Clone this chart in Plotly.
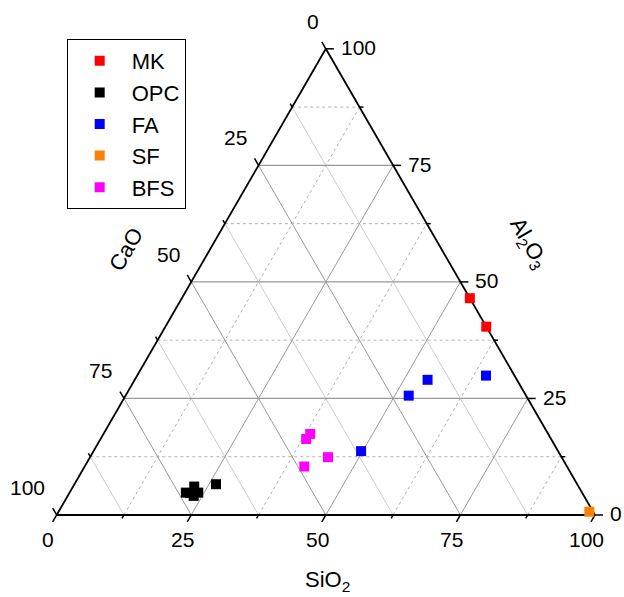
import numpy as np
import plotly.graph_objects as go

# ---------------- data (oxide composition, wt.%) ----------------
MK_SiO2 = [53.5, 59.6]
MK_Al2O3 = [46.5, 40.4]
MK_CaO = [0.0, 0.0]

OPC_SiO2 = [21.6, 22.5, 23.4, 23.9, 22.4, 26.3]
OPC_Al2O3 = [4.8, 6.1, 4.1, 4.8, 4.7, 6.6]
OPC_CaO = [73.6, 71.4, 72.5, 71.3, 72.9, 67.1]

FA_SiO2 = [54.4, 52.6, 64.8, 49.7]
FA_Al2O3 = [29.0, 25.6, 29.9, 13.7]
FA_CaO = [16.6, 21.8, 5.3, 36.6]

SF_SiO2 = [98.6]
SF_Al2O3 = [0.7]
SF_CaO = [0.7]

BFS_SiO2 = [38.4, 38.2, 44.2, 40.8]
BFS_Al2O3 = [17.4, 16.3, 12.4, 10.4]
BFS_CaO = [44.2, 45.5, 43.4, 48.8]

tick_values = [0, 25, 50, 75, 100]
minor_values = [12.5, 37.5, 62.5, 87.5]
tick_labels = ["0", "25", "50", "75", "100"]

FONT = "Liberation Sans, Arial, sans-serif"
SQ3 = np.sqrt(3) / 2


def proj(si, al, ca=None):
    """Ternary (SiO2 bottom-right, Al2O3 top, CaO bottom-left) -> plane."""
    si = np.asarray(si, float)
    al = np.asarray(al, float)
    if ca is not None:
        tot = (si + al + np.asarray(ca, float)) / 100.0
        si = si / tot
        al = al / tot
    return si + al / 2.0, al * SQ3


fig = go.Figure()


def add_lines(segments, color, width, dash="solid"):
    xs, ys = [], []
    for (x0, y0), (x1, y1) in segments:
        xs += [x0, x1, None]
        ys += [y0, y1, None]
    fig.add_trace(go.Scatter(x=xs, y=ys, mode="lines", hoverinfo="skip",
                             showlegend=False,
                             line=dict(color=color, width=width, dash=dash)))


def al_line(v):   # constant Al2O3
    return proj(0, v), proj(100 - v, v)


def si_line(v):   # constant SiO2
    return proj(v, 0), proj(v, 100 - v)


def ca_line(v):   # constant CaO
    return proj(0, 100 - v), proj(100 - v, 0)


majors = [25, 50, 75]
# minor grid
add_lines([al_line(v) for v in minor_values] + [si_line(v) for v in minor_values],
          "#b2b2b2", 1, "dot")
add_lines([ca_line(v) for v in minor_values], "#cccccc", 1)
# major grid
add_lines([si_line(v) for v in majors] + [ca_line(v) for v in majors], "#999999", 1)
add_lines([al_line(v) for v in majors], "#999999", 1.3)

# triangle frame
add_lines([(proj(0, 0), proj(100, 0)), (proj(100, 0), proj(0, 100)),
           (proj(0, 100), proj(0, 0))], "black", 1.8)

# ticks
PX = 5.383  # px per unit
maj_len = 8 / PX
min_len = 4 / PX
dirs = {
    "b": (-0.5, -SQ3),   # SiO2 ticks, bottom edge
    "r": (1.0, 0.0),     # Al2O3 ticks, right edge
    "l": (-0.5, SQ3),    # CaO ticks, left edge
}


def tick_pt(axis, v):
    if axis == "b":
        return proj(v, 0)
    if axis == "r":
        return proj(100 - v, v)
    return proj(0, 100 - v)


segs = []
for axis, d in dirs.items():
    for vals, ln in ((tick_values, maj_len), (minor_values, min_len)):
        for v in vals:
            x0, y0 = tick_pt(axis, v)
            segs.append(((x0, y0), (x0 + d[0] * ln, y0 + d[1] * ln)))
add_lines(segs, "black", 1.5)

# data
series = [
    ("MK", MK_SiO2, MK_Al2O3, MK_CaO, "#ff0000"),
    ("OPC", OPC_SiO2, OPC_Al2O3, OPC_CaO, "#000000"),
    ("FA", FA_SiO2, FA_Al2O3, FA_CaO, "#0000ff"),
    ("SF", SF_SiO2, SF_Al2O3, SF_CaO, "#ff8000"),
    ("BFS", BFS_SiO2, BFS_Al2O3, BFS_CaO, "#ff00ff"),
]
for name, si, al, ca, col in series:
    x, y = proj(si, al, ca)
    fig.add_trace(go.Scatter(x=x, y=y, mode="markers", name=name,
                             marker=dict(symbol="square", size=10, color=col,
                                         line=dict(width=0))))

ann = []
tf = dict(family=FONT, size=21, color="black")
for v, lab in zip(tick_values, tick_labels):
    x, y = tick_pt("b", v)
    ann.append(dict(x=x, y=y, text=lab, xanchor="center", yanchor="middle",
                    xshift=-8.5, yshift=-24.5, font=tf))
    x, y = tick_pt("r", v)
    ann.append(dict(x=x, y=y, text=lab, xanchor="left", yanchor="middle",
                    xshift=13, yshift=1, font=tf))
    x, y = tick_pt("l", v)
    ann.append(dict(x=x, y=y, text=lab, xanchor="right", yanchor="middle",
                    xshift=-9.5 + (5 if v == 0 else 0), yshift=27.5, font=tf))

titf = dict(family=FONT, size=22, color="black")
x, y = proj(50, 0)
ann.append(dict(x=x, y=y, text="SiO<sub>2</sub>", xanchor="center", yanchor="middle",
                xshift=2, yshift=-66, font=titf))
x, y = proj(0, 50)
ann.append(dict(x=x, y=y, text="CaO", xanchor="center", yanchor="middle",
                textangle=-60, xshift=-65, yshift=32, font=titf))
x, y = proj(50, 50)
ann.append(dict(x=x, y=y, text="Al<sub>2</sub>O<sub>3</sub>", xanchor="center",
                yanchor="middle", textangle=60, xshift=68, yshift=38, font=titf))
for a in ann:
    a.update(xref="x", yref="y", showarrow=False)

fig.update_layout(
    width=624, height=597,
    margin=dict(l=0, r=0, t=0, b=0),
    paper_bgcolor="white", plot_bgcolor="white",
    xaxis=dict(range=[-10.53, -10.53 + 624 / PX], visible=False, fixedrange=True),
    yaxis=dict(range=[95.67 - 597 / PX, 95.67], visible=False, fixedrange=True),
    annotations=ann,
    showlegend=True,
    legend=dict(x=66.7 / 624, y=1 - 39.0 / 597, xanchor="left", yanchor="top",
                bordercolor="black", borderwidth=1, bgcolor="white",
                font=dict(family=FONT, size=22, color="black"),
                itemwidth=54, tracegroupgap=0),
    font=dict(family=FONT),
)

fig.write_html("out.html",
               config={"displayModeBar": False},
               post_script="document.body.style.margin='0';"
                           "document.body.style.overflow='hidden';")
